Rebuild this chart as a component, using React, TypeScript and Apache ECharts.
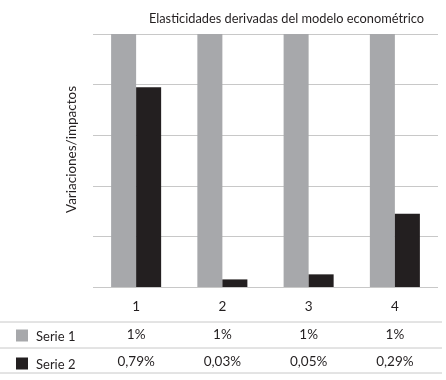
import React, { useEffect, useRef } from "react";
import * as echarts from "echarts";

const categories = ["1", "2", "3", "4"];
const serie1 = [1, 1, 1, 1];
const serie2 = [0.79, 0.03, 0.05, 0.29];
const serie1Labels = ["1%", "1%", "1%", "1%"];
const serie2Labels = ["0,79%", "0,03%", "0,05%", "0,29%"];
const seriesNames = ["Serie 1", "Serie 2"];
const title = "Elasticidades derivadas del modelo econométrico";
const yName = "Variaciones/impactos";

const GRAY = "#A7A8AB";
const BLACK = "#231F20";
const LINE = "#C8C8C8";
const FONT = "Lato, 'Open Sans', sans-serif";
const FS = 13.5;

export default function App() {
  const ref = useRef<HTMLDivElement>(null);
  useEffect(() => {
    if (!ref.current) return;
    const chart = echarts.init(ref.current, undefined, { renderer: "svg" });
    const hiddenAxis = {
      axisLine: { show: false },
      axisTick: { show: false },
      splitLine: { show: false },
    };
    chart.setOption({
      animation: false,
      textStyle: { fontFamily: FONT, color: BLACK },
      title: {
        text: title,
        right: 17,
        top: 6,
        textStyle: { fontSize: 12.8, fontWeight: "normal", color: BLACK, fontFamily: FONT },
      },
      legend: {
        orient: "vertical",
        left: 11,
        top: 324,
        itemWidth: 12,
        itemHeight: 12,
        itemGap: 15,
        selectedMode: false,
        icon: "rect",
        textStyle: { fontSize: 13, color: BLACK, padding: [0, 0, 0, 3], fontFamily: FONT },
        data: seriesNames,
      },
      grid: { left: 93, right: 8, top: 34, bottom: 93 },
      xAxis: [
        {
          type: "category",
          data: categories,
          ...hiddenAxis,
          axisLabel: { margin: 12, fontSize: FS, color: BLACK, fontFamily: FONT },
        },
        {
          type: "category",
          data: serie1Labels,
          position: "bottom",
          offset: 40,
          ...hiddenAxis,
          axisLabel: { margin: 0, fontSize: FS, color: BLACK, fontFamily: FONT },
        },
        {
          type: "category",
          data: serie2Labels,
          position: "bottom",
          offset: 67,
          ...hiddenAxis,
          axisLabel: { margin: 0, fontSize: FS, color: BLACK, fontFamily: FONT },
        },
      ],
      yAxis: {
        type: "value",
        min: 0,
        max: 1,
        interval: 0.2,
        name: yName,
        nameLocation: "middle",
        nameGap: 15,
        nameTextStyle: { fontSize: FS, color: BLACK, fontFamily: FONT, padding: [0, 0, 0, 22] },
        axisLine: { show: false },
        axisTick: { show: false },
        axisLabel: { show: false },
        splitLine: { lineStyle: { color: LINE, width: 1 } },
      },
      series: [
        {
          name: seriesNames[0],
          type: "bar",
          data: serie1,
          barWidth: "29%",
          barGap: "0%",
          itemStyle: { color: GRAY },
        },
        {
          name: seriesNames[1],
          type: "bar",
          data: serie2,
          barWidth: "29%",
          barGap: "0%",
          itemStyle: { color: BLACK },
        },
      ],
      graphic: [322, 348, 373].map((y) => ({
        type: "line",
        shape: { x1: 0, y1: y, x2: 442, y2: y },
        style: { stroke: LINE, lineWidth: 1 },
      })),
    });
    return () => chart.dispose();
  }, []);
  return (
    <div
      ref={ref}
      style={{ position: "fixed", left: 0, top: 0, width: 446, height: 380 }}
    />
  );
}
